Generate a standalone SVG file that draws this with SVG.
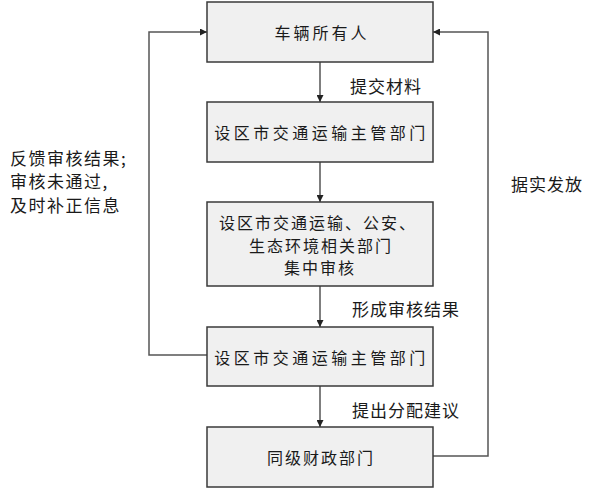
<svg xmlns="http://www.w3.org/2000/svg" width="598" height="496" viewBox="0 0 598 496">
<style>
.box{fill:#f0f0f0;stroke:#3a3a3a;stroke-width:1.5}
.t{font-family:"Noto Sans CJK SC","Noto Sans CJK TC",sans-serif;font-size:16px;fill:#1a1a1a;text-anchor:middle;dominant-baseline:central}
.l{font-family:"Noto Sans CJK SC","Noto Sans CJK TC",sans-serif;font-size:17px;fill:#1a1a1a;dominant-baseline:central}
.c{fill:none;stroke:#555;stroke-width:1.5}
</style>
<defs>
<marker id="ah" viewBox="0 0 10 10" refX="10" refY="5" markerWidth="7" markerHeight="7" markerUnits="userSpaceOnUse" orient="auto">
<path d="M0,0 L10,5 L0,10 z" fill="#222"/>
</marker>
</defs>
<rect width="598" height="496" fill="#fff"/>
<g id="connectors">
<line class="c" x1="320" y1="62" x2="320" y2="102" marker-end="url(#ah)"/>
<line class="c" x1="320" y1="162" x2="320" y2="202" marker-end="url(#ah)"/>
<line class="c" x1="320" y1="286" x2="320" y2="327" marker-end="url(#ah)"/>
<line class="c" x1="320" y1="386" x2="320" y2="427" marker-end="url(#ah)"/>
<polyline class="c" points="207,355 149,355 149,32 207,32" marker-end="url(#ah)"/>
<polyline class="c" points="433,456 488,456 488,32 433,32" marker-end="url(#ah)"/>
<text class="l" x="350" y="85" letter-spacing="1">提交材料</text>
<text class="l" x="352" y="308" letter-spacing="1">形成审核结果</text>
<text class="l" x="352" y="409" letter-spacing="1">提出分配建议</text>
<text class="l" x="10" y="157" letter-spacing="1.5">反馈审核结果;</text>
<text class="l" x="10" y="180" letter-spacing="1.5">审核未通过,</text>
<text class="l" x="10" y="204" letter-spacing="1.5">及时补正信息</text>
<text class="l" x="511" y="183" letter-spacing="1">据实发放</text>
</g>
<g id="n1">
<rect class="box" x="207" y="2" width="226" height="60"/>
<text class="t" x="322" y="32" letter-spacing="3">车辆所有人</text>
</g>
<g id="n2">
<rect class="box" x="207" y="102" width="226" height="60"/>
<text class="t" x="321.5" y="132" letter-spacing="3.5">设区市交通运输主管部门</text>
</g>
<g id="n3">
<rect class="box" x="207" y="202" width="226" height="84"/>
<text class="t" x="318" y="222" letter-spacing="2">设区市交通运输、公安、</text>
<text class="t" x="321" y="245" letter-spacing="2">生态环境相关部门</text>
<text class="t" x="320" y="267" letter-spacing="2">集中审核</text>
</g>
<g id="n4">
<rect class="box" x="207" y="327" width="226" height="59"/>
<text class="t" x="321.5" y="357" letter-spacing="3.5">设区市交通运输主管部门</text>
</g>
<g id="n5">
<rect class="box" x="207" y="427" width="226" height="60"/>
<text class="t" x="321" y="457" letter-spacing="2">同级财政部门</text>
</g>
</svg>
